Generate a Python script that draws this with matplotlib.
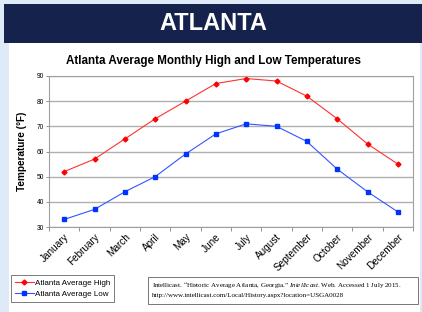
import matplotlib
matplotlib.use("Agg")
import matplotlib.pyplot as plt
from matplotlib.patches import Rectangle

months = ["January", "February", "March", "April", "May", "June", "July",
          "August", "September", "October", "November", "December"]
high_temps = [52, 57, 65, 73, 80, 87, 89, 88, 82, 73, 63, 55]
low_temps = [33, 37, 44, 50, 59, 67, 71, 70, 64, 53, 44, 36]
y_ticks = [30, 40, 50, 60, 70, 80, 90]

W, H = 422, 312
plt.rcParams['font.family'] = ['Liberation Sans', 'DejaVu Sans']
plt.rcParams['mathtext.fontset'] = 'custom'
plt.rcParams['mathtext.it'] = 'Liberation Serif:italic'
plt.rcParams['mathtext.rm'] = 'Liberation Serif'

fig = plt.figure(figsize=(W / 100, H / 100), dpi=100, facecolor='#dfeaf8')

# slide background and banner (drawn under the axes)
fig.patches.append(Rectangle((9 / W, 0), (420 - 9) / W, 1 - 43 / H,
                             transform=fig.transFigure, facecolor='white',
                             edgecolor='none', zorder=-2))
fig.patches.append(Rectangle((4 / W, 1 - 43 / H), 1, 39 / H,
                             transform=fig.transFigure, facecolor='#15224c',
                             edgecolor='none', zorder=-2))
fig.text(213 / W, 1 - 23.5 / H, "ATLANTA", color='white', fontsize=17,
         fontweight='bold', ha='center', va='center')
fig.text(214 / W, 1 - 61 / H, "Atlanta Average Monthly High and Low Temperatures",
         fontsize=8.4, fontweight='bold', ha='center', va='center')

# chart
ax = fig.add_axes([49 / W, 1 - 227 / H, (413 - 49) / W, (227 - 76) / H])
x = list(range(len(months)))
ax.plot(x, high_temps, color='#ff3030', lw=0.8, marker='D', ms=2.5,
        mec='#ff0000', mfc='#ff0000', label='Atlanta Average High')
ax.plot(x, low_temps, color='#3355ff', lw=0.8, marker='s', ms=3.5,
        mec='#0033ff', mfc='#0033ff', label='Atlanta Average Low')

ax.set_xlim(-0.5, 11.5)
ax.set_ylim(30, 90)
ax.set_yticks(y_ticks)
ax.tick_params(axis='y', labelsize=4.8, length=2, width=0.6, color='#808080', pad=1.5)
ax.set_xticks([i - 0.5 for i in range(13)])
ax.set_xticklabels([])
ax.set_xticks(x, minor=True)
ax.set_xticklabels(months, minor=True, rotation=45, ha='right',
                   rotation_mode='anchor', fontsize=7.2)
ax.tick_params(axis='x', which='major', length=3, width=0.6, color='#808080')
ax.tick_params(axis='x', which='minor', length=0, pad=3.5)
ax.grid(axis='y', color='#b0b0b0', lw=1.0)
ax.set_axisbelow(True)
for s in ax.spines.values():
    s.set_color('#a0a0a0')
    s.set_linewidth(0.8)
ax.set_ylabel("Temperature (\u00b0F)", fontsize=7.2, fontweight='bold', labelpad=7)

# legend
leg = fig.legend(loc='lower left', bbox_to_anchor=(11 / W, 1 - 302 / H),
                 fontsize=5.8, frameon=True, fancybox=False,
                 edgecolor='#404040', borderpad=0.5, handlelength=2.3,
                 handletextpad=0.15, labelspacing=0.45, borderaxespad=0)
leg.get_frame().set_linewidth(0.6)

# citation box
fig.patches.append(Rectangle((148 / W, 1 - 304 / H), 270 / W, 27 / H,
                             transform=fig.transFigure, facecolor='white',
                             edgecolor='#606060', lw=0.6, zorder=1))
fig.text(152 / W, 1 - 285 / H,
         "Intellicast. \u201cHistoric Average Atlanta, Georgia.\u201d $\\it{Intellicast}$. Web. Accessed 1 July 2015.",
         fontsize=5.0, family='Liberation Serif', va='center', zorder=2)
fig.text(152 / W, 1 - 295 / H,
         "http://www.intellicast.com/Local/History.aspx?location=USGA0028",
         fontsize=5.0, family='Liberation Serif', va='center', zorder=2)

fig.savefig("out.png", dpi=100, facecolor=fig.get_facecolor())
